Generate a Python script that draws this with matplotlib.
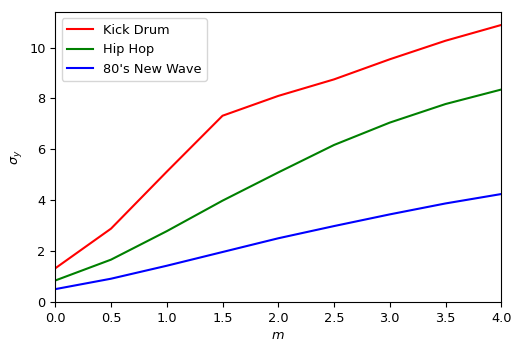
import numpy as np
import matplotlib
matplotlib.use("Agg")
import matplotlib.pyplot as plt

m = [0.0, 0.5, 1.0, 1.5, 2.0, 2.5, 3.0, 3.5, 4.0]
kick_drum = [1.32, 2.88, 5.12, 7.32, 8.10, 8.75, 9.54, 10.27, 10.89]
hip_hop = [0.84, 1.66, 2.78, 3.98, 5.09, 6.17, 7.05, 7.78, 8.35]
new_wave = [0.50, 0.91, 1.42, 1.96, 2.50, 2.98, 3.44, 3.87, 4.24]

plt.rcParams["font.size"] = 9.3

fig, ax = plt.subplots(figsize=(5.12, 3.43), dpi=100)
ax.plot(m, kick_drum, color="red", label="Kick Drum")
ax.plot(m, hip_hop, color="green", label="Hip Hop")
ax.plot(m, new_wave, color="blue", label="80's New Wave")

ax.set_xlim(0, 4)
ax.set_ylim(0, 11.4)
ax.set_xlabel("$m$", labelpad=3)
ax.set_ylabel(r"$\sigma_y$")
ax.legend(loc="upper left")

fig.subplots_adjust(left=0.108, right=0.979, top=0.965, bottom=0.12)
fig.savefig("out.png")
